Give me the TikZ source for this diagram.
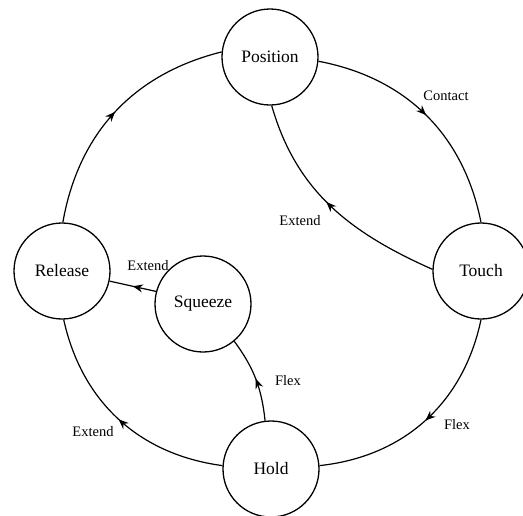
\documentclass[tikz,border=0pt]{standalone}
\usepackage{fontspec}
\setmainfont{Liberation Serif}
\usetikzlibrary{decorations.markings,arrows.meta}
\tikzset{
  state/.style={draw,circle,line width=1.3pt,minimum size=96pt,inner sep=0pt,font=\fontsize{17.5}{20}\selectfont},
  edge/.style={line width=1.2pt,postaction={decorate},
    decoration={markings,mark=at position #1 with {\arrow{Stealth[length=10pt,width=8pt]}}}},
  edge/.default=0.5,
  lbl/.style={font=\fontsize{14.5}{17}\selectfont}
}
\begin{document}
\begin{tikzpicture}[x=1pt,y=-1pt]
\useasboundingbox (0,0) rectangle (523,515);
\node[state] (P) at (270,57) {Position};
\node[state] (T) at (481,271) {Touch};
\node[state] (H) at (271,469) {Hold};
\node[state] (R) at (62,271) {Release};
\node[state] (S) at (203,304) {Squeeze};

\draw[edge] (P.-5) to[bend left=34] (T.90);
\draw[edge] (T.-90) to[bend left=36] (H.4);
\draw[edge] (H.176) to[bend left=35] (R.-88);
\draw[edge] (R.89) to[bend left=33] (P.174);
\draw[edge=0.53] (T.178) to[out=156,in=-74] (P.272);
\draw[edge] (S.165) -- (R.-12);
\draw[edge] (H.97) to[bend right=15] (S.-50);

\node[lbl] (l1) at (446,96) {Contact};
\node[lbl] (l2) at (300,221) {Extend};
\node[lbl] (l3) at (148,266) {Extend};
\node[lbl] (l4) at (288,381) {Flex};
\node[lbl] (l5) at (93,432) {Extend};
\node[lbl] (l6) at (457,425) {Flex};
\end{tikzpicture}
\end{document}
